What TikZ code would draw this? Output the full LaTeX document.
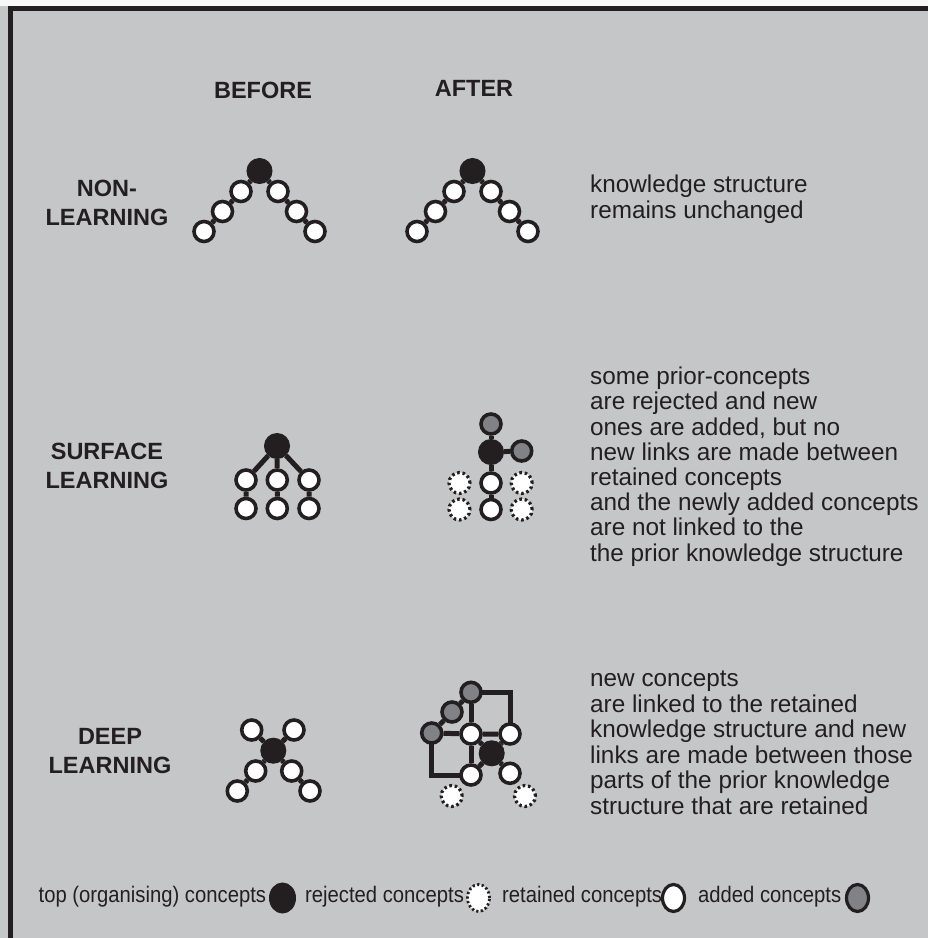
\documentclass[tikz,border=0pt]{standalone}
\usepackage{fontspec}
\setmainfont{Liberation Sans}
\newfontfamily\narrowfont[FakeStretch=0.9]{Liberation Sans}
\usetikzlibrary{shapes.geometric}
\definecolor{bgc}{RGB}{197,198,200}
\definecolor{ink}{RGB}{35,31,32}
\definecolor{addg}{RGB}{128,130,133}
\pgfdeclarelayer{bglayer}
\pgfdeclarelayer{linklayer}
\pgfsetlayers{bglayer,linklayer,main}
\begin{document}
\begin{tikzpicture}[x=1pt,y=-1pt,
  wn/.style={circle,draw=ink,fill=white,line width=3.6pt,minimum size=20pt,inner sep=0pt},
  bn/.style={circle,draw=ink,fill=ink,line width=1pt,minimum size=25pt,inner sep=0pt},
  gn/.style={circle,draw=ink,fill=addg,line width=3.6pt,minimum size=20pt,inner sep=0pt},
  rn/.style={circle,draw=ink,fill=white,line width=3.2pt,dash pattern=on 2.6pt off 2.8pt,minimum size=21pt,inner sep=0pt},
  link/.style={draw=ink,line width=5pt},
  head/.style={font=\fontsize{23.5}{28}\selectfont\bfseries,text=ink,inner sep=0pt},
  desc/.style={font=\fontsize{24.3}{26}\selectfont,text=ink,inner sep=0pt,anchor=west,text height=0.75em,text depth=0.22em},
  leg/.style={font=\narrowfont\fontsize{22.5}{25}\selectfont,text=ink,inner sep=0pt,anchor=west,text height=0.75em,text depth=0.22em},
  lgb/.style={ellipse,inner sep=0pt,draw=ink,fill=ink,line width=1pt,minimum width=26pt,minimum height=30pt},
  lgr/.style={ellipse,inner sep=0pt,draw=ink,fill=white,line width=2.8pt,dash pattern=on 2.2pt off 2.4pt,minimum width=22pt,minimum height=27pt},
  lgw/.style={ellipse,inner sep=0pt,draw=ink,fill=white,line width=3.2pt,minimum width=22pt,minimum height=27pt},
  lgg/.style={ellipse,inner sep=0pt,draw=ink,fill=addg,line width=3.2pt,minimum width=22pt,minimum height=27pt}]
\useasboundingbox (0,0) rectangle (928,938);
\begin{pgfonlayer}{bglayer}
  \fill[bgc] (0,0) rectangle (928,938);
  \fill[white!88!bgc] (0,0) rectangle (928,5.5);
  \draw[ink,line width=5pt] (10.5,960) -- (10.5,8.5) -- (960,8.5);
\end{pgfonlayer}

% headers
\node[head] (hbefore) at (263,90.3) {BEFORE};
\node[head] (hafter) at (474,88.3) {AFTER};
\node[head] (l1a) at (107,188) {NON-};
\node[head] (l1b) at (107,217) {LEARNING};
\node[head] (l2a) at (107,451) {SURFACE};
\node[head] (l2b) at (107,480) {LEARNING};
\node[head] (l3a) at (110,736) {DEEP};
\node[head] (l3b) at (110,765) {LEARNING};

% ---------- NON-LEARNING before
\node[bn] (nb0) at (259.5,171) {};
\node[wn] (nbl1) at (241,191.5) {};
\node[wn] (nbl2) at (222.5,211.5) {};
\node[wn] (nbl3) at (204,231.5) {};
\node[wn] (nbr1) at (278,191.5) {};
\node[wn] (nbr2) at (296.5,211.5) {};
\node[wn] (nbr3) at (315,231.5) {};
% ---------- NON-LEARNING after
\node[bn] (na0) at (472.5,171) {};
\node[wn] (nal1) at (454,191.5) {};
\node[wn] (nal2) at (435.5,211.5) {};
\node[wn] (nal3) at (417,231.5) {};
\node[wn] (nar1) at (491,191.5) {};
\node[wn] (nar2) at (509.5,211.5) {};
\node[wn] (nar3) at (528,231.5) {};
\begin{pgfonlayer}{linklayer}
  \draw[link] (nb0) -- (nbl1) -- (nbl2) -- (nbl3);
  \draw[link] (nb0) -- (nbr1) -- (nbr2) -- (nbr3);
  \draw[link] (na0) -- (nal1) -- (nal2) -- (nal3);
  \draw[link] (na0) -- (nar1) -- (nar2) -- (nar3);
\end{pgfonlayer}

% ---------- SURFACE before
\node[bn] (sb0) at (277,446) {};
\node[wn] (sb1) at (246,480) {};
\node[wn] (sb2) at (277.3,480) {};
\node[wn] (sb3) at (309,480) {};
\node[wn] (sb4) at (246,508.5) {};
\node[wn] (sb5) at (277.3,508.5) {};
\node[wn] (sb6) at (309,508.5) {};
% ---------- SURFACE after
\node[gn] (sag1) at (491,424) {};
\node[bn] (sa0) at (491,452) {};
\node[gn] (sag2) at (521.7,451) {};
\node[wn] (saw1) at (491,483) {};
\node[wn] (saw2) at (491,509.5) {};
\node[rn] (sar1) at (459.5,483) {};
\node[rn] (sar2) at (521.7,483) {};
\node[rn] (sar3) at (459.5,509.5) {};
\node[rn] (sar4) at (521.7,509.5) {};
\begin{pgfonlayer}{linklayer}
  \draw[link] (sb0) -- (sb1) -- (sb4);
  \draw[link] (sb0) -- (sb2) -- (sb5);
  \draw[link] (sb0) -- (sb3) -- (sb6);
  \draw[link] (sag1) -- (sa0) -- (saw1) -- (saw2);
  \draw[link] (sa0) -- (sag2);
\end{pgfonlayer}

% ---------- DEEP before
\node[bn] (db0) at (273.3,750.7) {};
\node[wn] (db1) at (251.7,730) {};
\node[wn] (db2) at (294,730) {};
\node[wn] (db3) at (255.7,771) {};
\node[wn] (db4) at (291.7,771) {};
\node[wn] (db5) at (237.3,791) {};
\node[wn] (db6) at (310,791) {};
% ---------- DEEP after
\node[bn] (da0) at (491.7,753.3) {};
\node[gn] (dag1) at (471,692.3) {};
\node[gn] (dag2) at (452,712) {};
\node[gn] (dag3) at (431.7,733) {};
\node[wn] (daw1) at (471,734) {};
\node[wn] (daw2) at (510,734) {};
\node[wn] (daw3) at (471,775) {};
\node[wn] (daw4) at (510,773.3) {};
\node[rn] (dar1) at (451.7,796) {};
\node[rn] (dar2) at (525,796) {};
\begin{pgfonlayer}{linklayer}
  \draw[link] (db0) -- (db1);
  \draw[link] (db0) -- (db2);
  \draw[link] (db0) -- (db3) -- (db5);
  \draw[link] (db0) -- (db4) -- (db6);
  \draw[link] (dag1) -- (dag2) -- (dag3);
  \draw[link] (dag1.center) -| (daw2.center);
  \draw[link] (dag1) -- (daw1) -- (daw3);
  \draw[link] (dag3) -- (daw1) -- (daw2);
  \draw[link] (dag3.center) |- (daw3.center);
  \draw[link] (da0) -- (daw1);
  \draw[link] (da0) -- (daw2);
  \draw[link] (da0) -- (daw3);
  \draw[link] (da0) -- (daw4);
\end{pgfonlayer}

% ---------- descriptions
\node[desc] (dn1) at (590,190) {knowledge structure};
\node[desc] (dn2) at (590,215.5) {remains unchanged};
\foreach \t [count=\i from 0] in {some prior-concepts, are rejected and new, {ones are added, but no}, new links are made between, retained concepts, and the newly added concepts, are not linked to the, the prior knowledge structure}
  \node[desc] (ds\i) at (590,{382+25.2*\i}) {\t};
\foreach \t [count=\i from 0] in {new concepts, are linked to the retained, knowledge structure and new, links are made between those, parts of the prior knowledge, structure that are retained}
  \node[desc] (dd\i) at (590,{684+25.5*\i}) {\t};

% ---------- legend
\node[leg] (lt1) at (38.5,900) {top (organising) concepts};
\node[lgb] (lc1) at (282.5,898) {};
\node[leg] (lt2) at (305,900) {rejected concepts};
\node[lgr] (lc2) at (478.5,898) {};
\node[leg] (lt3) at (502,900) {retained concepts};
\node[lgw] (lc3) at (673.5,898) {};
\node[leg] (lt4) at (698,900) {added concepts};
\node[lgg] (lc4) at (857.5,898) {};
\end{tikzpicture}
\end{document}
